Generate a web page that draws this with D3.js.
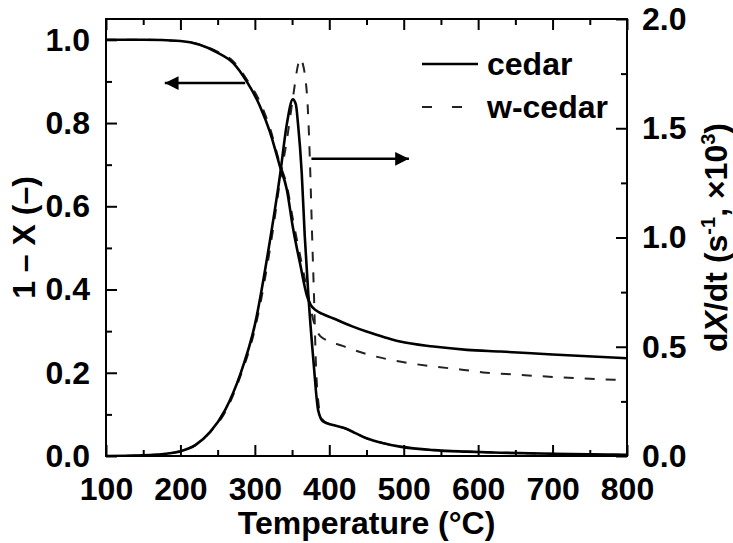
<!DOCTYPE html>
<html>
<head>
<meta charset="utf-8">
<script src="https://cdn.jsdelivr.net/npm/d3@7"></script>
<style>
  html, body { margin: 0; padding: 0; background: #fff; }
  svg { display: block; }
  text { font-family: "Liberation Sans", Arial, sans-serif; font-weight: bold; fill: #000; }
</style>
</head>
<body>
<svg id="chart" width="733" height="543"></svg>
<script>
// ---- Data ----
// Conversion 1 - X (left axis)
const convTempCedar = [100, 150, 200, 226, 249, 271, 289, 307, 320, 334, 343, 351, 361, 370, 375, 382, 390, 405, 430, 450, 475, 495, 540, 585, 630, 700, 800];
const convCedar     = [1.0, 1.0, 0.997, 0.988, 0.97, 0.944, 0.9, 0.84, 0.78, 0.694, 0.64, 0.55, 0.46, 0.385, 0.363, 0.35, 0.342, 0.331, 0.312, 0.299, 0.285, 0.275, 0.263, 0.255, 0.251, 0.244, 0.235];

const convTempWcedar = [100, 150, 200, 226, 249, 271, 289, 307, 320, 334, 343, 351, 361, 370, 378, 388, 419, 450, 477, 508, 540, 576, 611, 638, 700, 786, 800];
const convWcedar     = [1.0, 1.0, 0.997, 0.989, 0.972, 0.948, 0.905, 0.85, 0.79, 0.70, 0.65, 0.57, 0.48, 0.40, 0.33, 0.288, 0.264, 0.245, 0.233, 0.223, 0.215, 0.208, 0.200, 0.197, 0.19, 0.183, 0.182];

// Rate dX/dt (right axis, s^-1 x10^3)
const rateTempCedar = [100, 150, 180, 200, 220, 240, 260, 280, 300, 320, 334, 343, 351, 355, 358, 363, 367, 372, 379, 385, 392, 405, 420, 435, 450, 473, 495, 540, 585, 630, 700, 800];
const rateCedar     = [0.0, 0.003, 0.01, 0.022, 0.05, 0.11, 0.21, 0.37, 0.6, 0.98, 1.29, 1.52, 1.632, 1.61, 1.52, 1.294, 1.01, 0.73, 0.424, 0.21, 0.157, 0.142, 0.128, 0.105, 0.081, 0.058, 0.043, 0.027, 0.02, 0.015, 0.01, 0.005];

const rateTempWcedar = [100, 150, 180, 200, 220, 240, 260, 280, 300, 325, 334, 343, 352, 358, 361, 364, 367, 371, 373, 374.5, 377, 379.5, 382, 385.5, 390, 400, 420, 435, 450, 473, 495, 540, 585, 630, 700, 800];
const rateWcedar     = [0.0, 0.003, 0.01, 0.022, 0.05, 0.11, 0.2, 0.36, 0.58, 1.05, 1.263, 1.446, 1.66, 1.79, 1.82, 1.80, 1.75, 1.6, 1.446, 1.294, 1.0, 0.729, 0.424, 0.241, 0.17, 0.145, 0.128, 0.105, 0.081, 0.058, 0.043, 0.027, 0.02, 0.015, 0.01, 0.005];

// Axis ticks
const xTicks = [100, 200, 300, 400, 500, 600, 700, 800];
const xMinorTicks = [150, 250, 350, 450, 550, 650, 750];
const yLeftTicks = [0.0, 0.2, 0.4, 0.6, 0.8, 1.0];
const yLeftMinor = [0.1, 0.3, 0.5, 0.7, 0.9];
const yRightTicks = [0.0, 0.5, 1.0, 1.5, 2.0];
const yRightMinor = [0.25, 0.75, 1.25, 1.75];

// Legend
const seriesNames = ["cedar", "w-cedar"];

// Annotation arrows in data coordinates: [T start, T tip, value]
const leftArrow = [287, 179, 0.896];   // points to left axis (1 - X)
const rightArrow = [376, 507, 1.36];   // points to right axis (dX/dt)

// ---- Layout ----
const svg = d3.select("#chart");
const margin = { left: 106, right: 106, top: 19, bottom: 87 };
const W = 733, H = 543;
const x0 = margin.left, x1 = W - margin.right;   // 106 .. 627
const yB = H - margin.bottom, yT = margin.top;   // 456 .. 19

const x = d3.scaleLinear().domain([100, 800]).range([x0, x1]);
const yL = d3.scaleLinear().domain([0, 1.05]).range([yB, yT]);
const yR = d3.scaleLinear().domain([0, 2.0]).range([yB, yT]);

const FS = 32;
const majorLen = 11, minorLen = 6;

const g = svg.append("g");

// Curves
const lineL = d3.line().x(d => x(d[0])).y(d => yL(d[1])).curve(d3.curveMonotoneX);
const lineR = d3.line().x(d => x(d[0])).y(d => yR(d[1])).curve(d3.curveMonotoneX);

svg.append("clipPath").attr("id", "clip")
  .append("rect").attr("x", x0).attr("y", yT).attr("width", x1 - x0).attr("height", yB - yT);

const curves = g.append("g").attr("clip-path", "url(#clip)");
curves.append("path").datum(d3.zip(convTempWcedar, convWcedar))
  .attr("d", lineL).attr("fill", "none").attr("stroke", "#222").attr("stroke-width", 2).attr("stroke-dasharray", "10,11");
curves.append("path").datum(d3.zip(rateTempWcedar, rateWcedar))
  .attr("d", lineR).attr("fill", "none").attr("stroke", "#222").attr("stroke-width", 2).attr("stroke-dasharray", "10,11");
curves.append("path").datum(d3.zip(convTempCedar, convCedar))
  .attr("d", lineL).attr("fill", "none").attr("stroke", "#000").attr("stroke-width", 2.6);
curves.append("path").datum(d3.zip(rateTempCedar, rateCedar))
  .attr("d", lineR).attr("fill", "none").attr("stroke", "#000").attr("stroke-width", 2.6);

// Axes (ticks pointing inward)
function styleAxis(sel) {
  sel.select(".domain").remove();
  sel.selectAll("line").attr("stroke", "#000").attr("stroke-width", 2);
  sel.selectAll("text").style("font-size", FS + "px").style("font-weight", "bold")
     .style("font-family", '"Liberation Sans", Arial, sans-serif');
}

// bottom
g.append("g").attr("transform", `translate(0,${yB})`)
  .call(d3.axisBottom(x).tickValues(xTicks).tickFormat(d3.format("d")).tickSizeInner(-majorLen).tickSizeOuter(0).tickPadding(21)).call(styleAxis);
g.append("g").attr("transform", `translate(0,${yB})`)
  .call(d3.axisBottom(x).tickValues(xMinorTicks).tickFormat("").tickSizeInner(-minorLen).tickSizeOuter(0)).call(styleAxis);
// top
g.append("g").attr("transform", `translate(0,${yT})`)
  .call(d3.axisTop(x).tickValues(xTicks).tickFormat("").tickSizeInner(-majorLen).tickSizeOuter(0)).call(styleAxis);
g.append("g").attr("transform", `translate(0,${yT})`)
  .call(d3.axisTop(x).tickValues(xMinorTicks).tickFormat("").tickSizeInner(-minorLen).tickSizeOuter(0)).call(styleAxis);
// left
g.append("g").attr("transform", `translate(${x0},0)`)
  .call(d3.axisLeft(yL).tickValues(yLeftTicks).tickFormat(d3.format(".1f")).tickSizeInner(-majorLen).tickSizeOuter(0).tickPadding(16)).call(styleAxis);
g.append("g").attr("transform", `translate(${x0},0)`)
  .call(d3.axisLeft(yL).tickValues(yLeftMinor).tickFormat("").tickSizeInner(-minorLen).tickSizeOuter(0)).call(styleAxis);
// right
g.append("g").attr("transform", `translate(${x1},0)`)
  .call(d3.axisRight(yR).tickValues(yRightTicks).tickFormat(d3.format(".1f")).tickSizeInner(-majorLen).tickSizeOuter(0).tickPadding(15)).call(styleAxis);
g.append("g").attr("transform", `translate(${x1},0)`)
  .call(d3.axisRight(yR).tickValues(yRightMinor).tickFormat("").tickSizeInner(-minorLen).tickSizeOuter(0)).call(styleAxis);

// Frame
g.append("rect").attr("x", x0).attr("y", yT).attr("width", x1 - x0).attr("height", yB - yT)
  .attr("fill", "none").attr("stroke", "#000").attr("stroke-width", 2);

// Axis titles
svg.append("text").attr("x", (x0 + x1) / 2).attr("y", 534).attr("text-anchor", "middle")
  .style("font-size", FS + "px").text("Temperature (°C)");

svg.append("text").attr("transform", `translate(35,${(yT + yB) / 2}) rotate(-90)`).attr("text-anchor", "middle")
  .style("font-size", FS + "px").text("1 – X (–)");

const rt = svg.append("text").attr("transform", `translate(727,${(yT + yB) / 2}) rotate(-90)`).attr("text-anchor", "middle")
  .style("font-size", FS + "px");
rt.append("tspan").text("d");
rt.append("tspan").style("font-style", "italic").text("X");
rt.append("tspan").text("/dt (s");
rt.append("tspan").attr("dy", -12).style("font-size", "20px").text("-1");
rt.append("tspan").attr("dy", 12).text(", ×10");
rt.append("tspan").attr("dy", -12).style("font-size", "20px").text("3");
rt.append("tspan").attr("dy", 12).text(")");

// Legend
const legend = svg.append("g");
seriesNames.forEach((name, i) => {
  const ly = 64 + i * 43;
  legend.append("line").attr("x1", 422).attr("x2", 478).attr("y1", ly).attr("y2", ly)
    .attr("stroke", i === 0 ? "#000" : "#222").attr("stroke-width", i === 0 ? 2.6 : 2)
    .attr("stroke-dasharray", i === 0 ? null : "10,20");
  legend.append("text").attr("x", 487).attr("y", ly + 11).style("font-size", FS + "px").text(name);
});

// Arrows
const defs = svg.append("defs");
defs.append("marker").attr("id", "ah").attr("viewBox", "0 0 10 10").attr("refX", 10).attr("refY", 5)
  .attr("markerWidth", 6).attr("markerHeight", 5.5).attr("markerUnits", "strokeWidth").attr("orient", "auto")
  .append("path").attr("d", "M0,0 L10,5 L0,10 Z").attr("fill", "#000");

svg.append("line").attr("x1", x(leftArrow[0])).attr("x2", x(leftArrow[1]))
  .attr("y1", yL(leftArrow[2])).attr("y2", yL(leftArrow[2]))
  .attr("stroke", "#000").attr("stroke-width", 2.5).attr("marker-end", "url(#ah)");
svg.append("line").attr("x1", x(rightArrow[0])).attr("x2", x(rightArrow[1]))
  .attr("y1", yR(rightArrow[2])).attr("y2", yR(rightArrow[2]))
  .attr("stroke", "#000").attr("stroke-width", 2.5).attr("marker-end", "url(#ah)");
</script>
</body>
</html>
